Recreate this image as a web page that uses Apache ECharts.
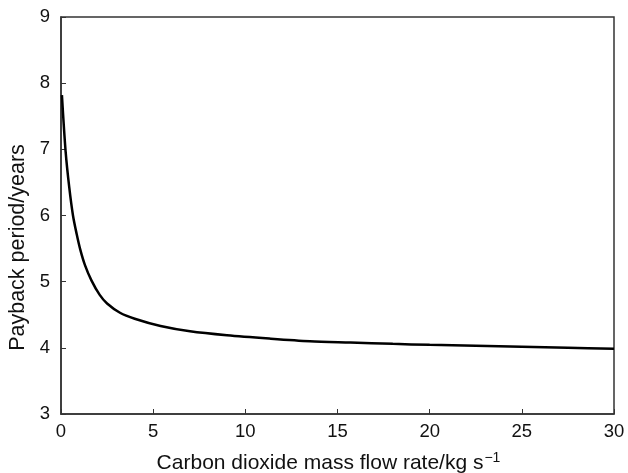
<!DOCTYPE html>
<html>
<head>
<meta charset="utf-8">
<script src="https://cdn.jsdelivr.net/npm/echarts@6/dist/echarts.min.js"></script>
<style>html,body{margin:0;padding:0;background:#fff}#c{width:628px;height:473px}</style>
</head>
<body>
<div id="c"></div>
<script>
const flowRate = [0.05, 0.25, 0.45, 0.65, 0.85, 1.05, 1.3, 1.65, 2.1, 2.5, 3.2, 4, 5.4, 7, 9, 11.3, 13.5, 15.7, 18, 20, 22.5, 25, 27.5, 30];
const payback = [7.82, 6.97, 6.42, 6.0, 5.72, 5.48, 5.25, 5.02, 4.8, 4.67, 4.53, 4.44, 4.33, 4.25, 4.19, 4.14, 4.1, 4.08, 4.06, 4.045, 4.03, 4.015, 4.0, 3.985];
const xTicks = [0, 5, 10, 15, 20, 25, 30];
const yTicks = [3, 4, 5, 6, 7, 8, 9];
const xName = 'Carbon dioxide mass flow rate/kg s';
const xNameSup = '\u22121';
const yName = 'Payback period/years';

const chart = echarts.init(document.getElementById('c'), null, {renderer: 'canvas'});
const font = 'Liberation Sans, Arial, Helvetica, sans-serif';
const axisCol = '#333';
chart.setOption({
  animation: false,
  backgroundColor: '#fff',
  grid: {left: 61, right: 14, top: 17, bottom: 59, containLabel: false, outerBoundsMode: 'none', show: true, borderColor: axisCol, borderWidth: 1.5},
  xAxis: {
    type: 'value', min: xTicks[0], max: xTicks[xTicks.length - 1], interval: 5,
    name: '{a|' + xName + '}{s|' + xNameSup + '}',
    nameLocation: 'middle', nameGap: 37,
    nameTextStyle: {padding: [0, 18, 0, 0], rich: {a: {fontFamily: font, fontSize: 21, color: '#111'}, s: {fontFamily: font, fontSize: 14, color: '#111', padding: [0, 0, 11, 1]}}},
    axisLine: {show: true, lineStyle: {color: axisCol, width: 1.5}},
    axisTick: {show: true, inside: true, length: 5, lineStyle: {color: axisCol}},
    axisLabel: {fontFamily: font, fontSize: 18.5, color: '#111', margin: 8},
    splitLine: {show: false}
  },
  yAxis: {
    type: 'value', min: yTicks[0], max: yTicks[yTicks.length - 1], interval: 1,
    name: yName, nameLocation: 'middle', nameGap: 31,
    nameTextStyle: {fontFamily: font, fontSize: 21.5, color: '#111', padding: [0, 64, 0, 0]},
    axisLine: {show: true, lineStyle: {color: axisCol, width: 1.5}},
    axisTick: {show: true, inside: true, length: 5, lineStyle: {color: axisCol}},
    axisLabel: {fontFamily: font, fontSize: 18.5, color: '#111', margin: 11},
    splitLine: {show: false}
  },
  series: [{
    type: 'line',
    data: flowRate.map((x, i) => [x, payback[i]]),
    showSymbol: false,
    smooth: 0.3,
    lineStyle: {color: '#000', width: 2.5}
  }]
});
</script>
</body>
</html>
